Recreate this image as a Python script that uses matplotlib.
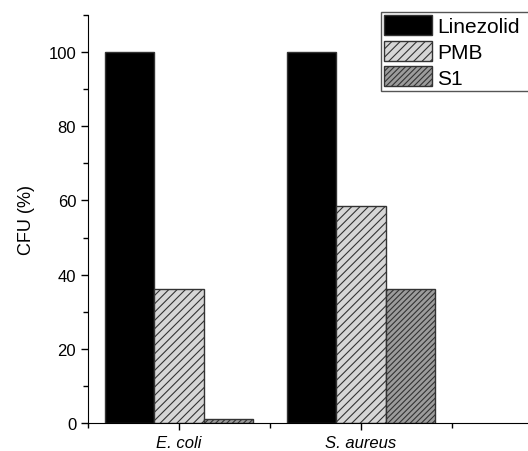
import numpy as np
import matplotlib.pyplot as plt
from matplotlib.ticker import MultipleLocator

plt.rcParams["font.family"] = ["Liberation Sans", "DejaVu Sans"]
plt.rcParams["hatch.linewidth"] = 0.8

# ============================================================
# Data
# ============================================================
groups = ["E. coli", "S. aureus"]
series = ["Linezolid", "PMB", "S1"]
linezolid = [100, 100]
pmb = [36.1, 58.6]
s1 = [1.0, 36.2]

# ============================================================
# Figure
# ============================================================
fig = plt.figure(figsize=(5.28, 4.52), dpi=100)
# axes runs past the right edge, like the original export
ax = fig.add_axes([88 / 528, 28 / 452, (543 - 88) / 528, (424 - 16) / 452])

x = np.arange(1, len(groups) + 1)
w = 0.27
styles = [
    dict(color="black", hatch=None),
    dict(color="#d6d6d6", hatch="////"),
    dict(color="#9c9c9c", hatch="//////"),
]
for i, (vals, name, st) in enumerate(zip([linezolid, pmb, s1], series, styles)):
    ax.bar(x + (i - 1) * w, vals, w, facecolor=st["color"], edgecolor="#333333",
           linewidth=1.0, hatch=st["hatch"], label=name)

ax.set_xlim(0.5, 3.0)
ax.set_ylim(0, 110)
ax.set_xticks(x)
ax.set_xticklabels(groups, fontstyle="italic", fontsize=12)
ax.xaxis.set_minor_locator(MultipleLocator(0.5))
ax.yaxis.set_minor_locator(MultipleLocator(10))
ax.set_yticks([0, 20, 40, 60, 80, 100])
ax.tick_params(axis="both", which="major", direction="out", length=5, width=1, labelsize=12)
ax.tick_params(axis="both", which="minor", direction="out", length=3.5, width=1)
ax.set_ylabel("CFU (%)", fontsize=13, labelpad=10)

ax.spines["top"].set_visible(False)
ax.spines["right"].set_visible(False)

# legend box is cut by the right edge in the original
leg = fig.legend(loc="upper left", bbox_to_anchor=(381 / 528, 1 - 13 / 452, 165 / 528, 0),
                 mode="expand", fontsize=15, handlelength=2.3, handleheight=1.1,
                 handletextpad=0.25, labelspacing=0.22, borderpad=0.15,
                 borderaxespad=0, fancybox=False, framealpha=1,
                 edgecolor="#555555")
leg.get_frame().set_linewidth(1.0)

plt.savefig("out.png", dpi=100)
